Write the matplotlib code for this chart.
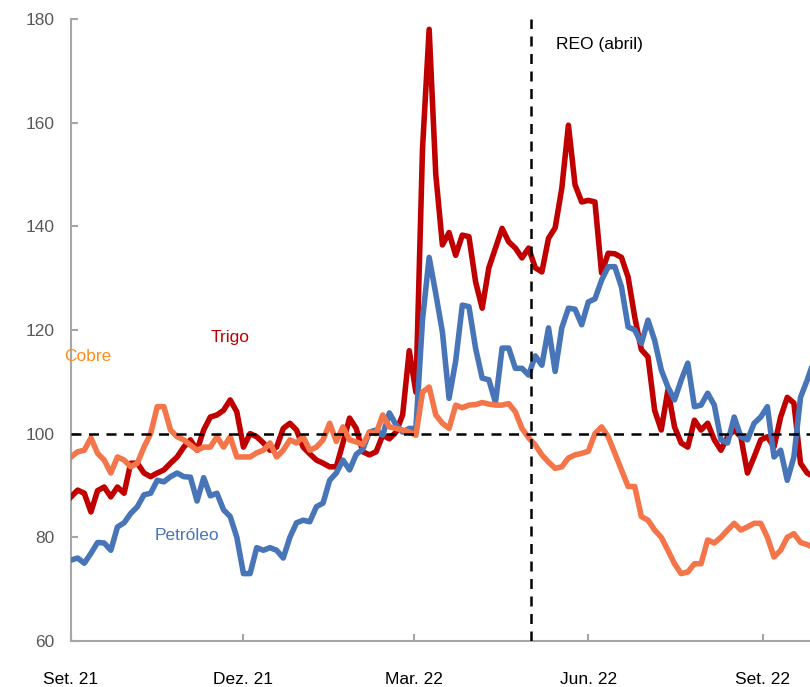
import pandas as pd
import matplotlib.pyplot as plt

# datos cada 3,5 dias (indice base = 100)
fechas = pd.date_range("2021-09-01", periods=113, freq="84h")

petroleo = [75.6, 76, 75, 76.9, 79, 78.9, 77.5, 82, 82.8, 84.6,
            85.9, 88.2, 88.5, 91, 90.7, 91.7, 92.4, 91.7, 91.6, 87,
            91.5, 88, 88.5, 85.3, 84, 80, 73, 73, 78, 77.5,
            78, 77.5, 76, 80, 82.8, 83.3, 83, 85.9, 86.6, 91,
            92.4, 94.9, 93, 96, 97, 100.3, 100.7, 99.7, 104, 101.7,
            100.3, 101, 101, 122, 134, 127, 119.6, 106.8, 114, 124.8,
            124.5, 116.5, 110.7, 110.4, 106, 116.5, 116.5, 112.6, 112.6, 111.3,
            115, 113.2, 120.4, 112, 120.4, 124.2, 124, 121, 125.4, 126,
            129.6, 132.2, 132.2, 128.3, 120.6, 120, 117.4, 121.9, 118, 112.3,
            109, 106.5, 110.3, 113.6, 105.2, 105.5, 107.8, 105.5, 98.8, 98.2,
            103.2, 99.4, 98.8, 102, 103.2, 105.2, 95.5, 96.8, 91, 95.5,
            107, 110.3, 114]

trigo = [87.8, 89.1, 88.5, 84.9, 89, 89.7, 87.8, 89.7, 88.5, 94.3,
         94.3, 92.4, 91.7, 92.4, 93, 94.3, 95.5, 97.4, 98.8, 96.8,
         100.7, 103.2, 103.6, 104.5, 106.5, 104.2, 97.4, 100, 99.4, 98.2,
         96.8, 97.4, 101, 102, 100.7, 97.4, 96.1, 94.9, 94.3, 93.6,
         93.6, 98.2, 103, 101, 96.5, 95.9, 96.5, 99.7, 99, 100.3,
         103.6, 116, 108, 155, 178, 150, 136.4, 138.8, 134.4, 138.3,
         138, 129.3, 124.2, 132, 135.8, 139.6, 137, 135.8, 133.9, 135.8,
         132, 131.2, 137.7, 139.7, 147.3, 159.5, 148, 144.7, 145, 144.7,
         131, 134.8, 134.7, 134, 130.2, 122.5, 116.2, 114.8, 104.5, 100.7,
         108.4, 101.3, 98.2, 97.4, 102.6, 100.7, 102, 98.8, 96.8, 99.4,
         100.7, 99.4, 92.4, 95.5, 98.8, 99.4, 97.4, 103.2, 107, 105.9,
         94.3, 92.4, 91.7]

cobre = [95.5, 96.5, 96.8, 99.2, 96.2, 94.9, 92.4, 95.5, 94.9, 93.6,
         94.3, 97.4, 100, 105.2, 105.2, 100.7, 99.4, 98.8, 97.8, 96.8,
         97.4, 97.4, 99.4, 97.4, 99.4, 95.5, 95.5, 95.5, 96.3, 96.8,
         98.2, 95.5, 96.8, 98.8, 98.2, 99.4, 96.8, 97.4, 98.8, 102,
         98.5, 101.3, 98.8, 98.4, 97.9, 100.3, 100, 103.6, 101.3, 101,
         100.7, 100.3, 99.7, 108, 109, 103.6, 102, 101, 105.5, 105,
         105.5, 105.6, 106, 105.7, 105.5, 105.5, 105.8, 104.2, 101, 99.2,
         97.8, 95.9, 94.5, 93.3, 93.6, 95.3, 95.9, 96.2, 96.6, 100,
         101.3, 99.4, 96.2, 93, 89.8, 89.8, 84, 83.3, 81.4, 80,
         77.5, 74.9, 73, 73.3, 74.9, 74.9, 79.5, 78.9, 80, 81.4,
         82.7, 81.4, 82, 82.7, 82.7, 80, 76.2, 77.5, 80, 80.7,
         79, 78.6, 78]

ticks_x = pd.to_datetime(["2021-09-01", "2021-12-01", "2022-03-01", "2022-06-01", "2022-09-01"])
etiquetas_x = ["Set. 21", "Dez. 21", "Mar. 22", "Jun. 22", "Set. 22"]
fecha_reo = pd.Timestamp("2022-05-02")

plt.rcParams["font.family"] = ["Liberation Sans", "DejaVu Sans"]

fig = plt.figure(figsize=(8.1, 6.87), dpi=100)
ax = fig.add_axes([0.0877, 0.067, 0.9123, 0.9054])

ax.plot(fechas, trigo, color="#C00000", lw=4, zorder=3)
ax.plot(fechas, petroleo, color="#4775B8", lw=4, zorder=4)
ax.plot(fechas, cobre, color="#F4754A", lw=4, zorder=5)

ax.axhline(100, color="black", lw=1.8, ls=(0, (4, 3)), zorder=6)
ax.axvline(fecha_reo, color="black", lw=1.8, ls=(0, (4, 3)), zorder=6)

ax.text(pd.Timestamp("2022-05-15"), 175, "REO (abril)", fontsize=12.5, color="black", va="center")
ax.text(pd.Timestamp("2021-09-10"), 114.8, "Cobre", fontsize=12.5, color="#FF8C1A", ha="center", va="center")
ax.text(pd.Timestamp("2021-11-24"), 118.5, "Trigo", fontsize=12.5, color="#C00000", ha="center", va="center")
ax.text(pd.Timestamp("2021-11-01"), 80.3, "Petróleo", fontsize=12.5, color="#4775B8", ha="center", va="center")

ax.set_ylim(60, 180)
ax.set_yticks(range(60, 181, 20))
ax.set_xlim(pd.Timestamp("2021-09-01"), pd.Timestamp("2022-09-26"))
ax.set_xticks(ticks_x)
ax.set_xticklabels(etiquetas_x)

for s in ["top", "right"]:
    ax.spines[s].set_visible(False)
for s in ["left", "bottom"]:
    ax.spines[s].set_color("#A6A6A6")
    ax.spines[s].set_linewidth(1.5)

ax.tick_params(axis="y", direction="in", length=5, width=1.5, color="#A6A6A6",
               labelsize=12.5, labelcolor="#595959", pad=12)
ax.tick_params(axis="x", direction="in", length=5, width=1.5, color="#A6A6A6",
               labelsize=12.5, labelcolor="black", pad=22)

fig.savefig("out.png", dpi=100)
